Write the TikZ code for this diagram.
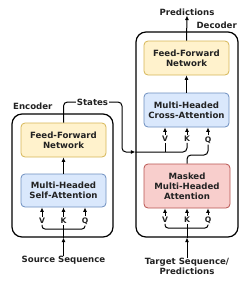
\documentclass[tikz,border=0pt]{standalone}
\usepackage{fontspec}
\setmainfont{DejaVu Sans}
\usetikzlibrary{arrows.meta}
\definecolor{ffnf}{HTML}{FFF2CC}
\definecolor{ffnb}{HTML}{D6B656}
\definecolor{attf}{HTML}{DAE8FC}
\definecolor{attb}{HTML}{6C8EBF}
\definecolor{mskf}{HTML}{F8CECC}
\definecolor{mskb}{HTML}{B85450}
\definecolor{txt}{HTML}{222222}
\begin{document}
\begin{tikzpicture}[x=1pt,y=-1pt,
  font=\bfseries\fontsize{8.6}{10}\selectfont, text=txt,
  outer/.style={draw, line width=1.2pt, rounded corners=10pt, inner sep=0pt},
  blk/.style={rounded corners=4pt, line width=0.8pt, align=center, inner sep=0pt},
  ffn/.style={blk, draw=ffnb, fill=ffnf},
  att/.style={blk, draw=attb, fill=attf},
  msk/.style={blk, draw=mskb, fill=mskf},
  lbl/.style={inner sep=1pt, font=\bfseries\fontsize{7.6}{8}\selectfont},
  arr/.style={-{Latex[length=4.5pt,width=4pt]}, line width=1pt},
  ln/.style={line width=1pt}]
\useasboundingbox (0,0) rectangle (250,282);

% outer boxes
\node[outer, minimum width=101pt, minimum height=123pt] (enc) at (62.5,175.5) {};
\node[outer, minimum width=102pt, minimum height=205pt] (dec) at (187,134.5) {};
\node[anchor=west, inner sep=0pt] (enclbl) at (13,106) {Encoder};
\node[anchor=east, inner sep=0pt] (declbl) at (237,25) {Decoder};

% encoder blocks
\node[ffn, minimum width=85pt, minimum height=34pt] (effn) at (63.5,140) {Feed-Forward\\Network};
\node[att, minimum width=85pt, minimum height=33pt] (esa) at (63.5,190.5) {Multi-Headed\\Self-Attention};
\draw[arr] (esa.north) -- (effn.south);

% encoder inputs
\node[lbl] (ev) at (42,221) {V};
\node[lbl] (ek) at (63.5,221) {K};
\node[lbl] (eq) at (85,221) {Q};
\foreach \n in {ev,ek,eq} \draw[arr] (\n.north) -- (\n.north |- esa.south);
\draw[ln, rounded corners=3pt] (ev.south) -- (ev.south |- 0,229) -- (eq.south |- 0,229) -- (eq.south);
\node[inner sep=0pt] (src) at (63.5,260) {Source Sequence};
\draw[arr] (src.north) -- (ek |- enc.south);
\draw[ln] (ek |- enc.south) -- (ek.south);

% decoder blocks
\node[ffn, minimum width=85pt, minimum height=34pt] (dffn) at (186.5,58) {Feed-Forward\\Network};
\node[att, minimum width=85pt, minimum height=34pt] (dca) at (186.5,110) {Multi-Headed\\Cross-Attention};
\node[msk, minimum width=86pt, minimum height=44pt] (dma) at (187,186) {Masked\\Multi-Headed\\Attention};
\draw[arr] (dca.north) -- (dffn.south);
\node[inner sep=0pt] (pred) at (187,12) {Predictions};
\draw[arr] (dffn.north) -- (pred.south);

% cross-attention inputs
\node[lbl] (cv) at (165,139) {V};
\node[lbl] (ck) at (187,139) {K};
\node[lbl] (cq) at (208,140) {Q};
\foreach \n in {cv,ck,cq} \draw[arr] (\n.north) -- (\n.north |- dca.south);
\draw[ln, rounded corners=4pt] (dma.north) -- (dma.north |- 0,155) -- (cq.south |- 0,155) -- (cq.south);

% states
\coordinate (sin) at (dec.west |- 0,152);
\draw[arr, rounded corners=4pt] (effn.north) -- (effn.north |- 0,102) -- (122,102) -- (122,152) -- (sin);
\draw[ln, rounded corners=4pt] (sin) -- (ck.south |- 0,152) -- (ck.south);
\draw[ln] (cv.south) -- (cv.south |- 0,152);
\node[lbl, fill=white, font=\bfseries\fontsize{8.6}{10}\selectfont] (states) at (92.5,102) {States};

% masked inputs
\node[lbl] (mv) at (165,220) {V};
\node[lbl] (mk) at (187,220) {K};
\node[lbl] (mq) at (208,220) {Q};
\foreach \n in {mv,mk,mq} \draw[arr] (\n.north) -- (\n.north |- dma.south);
\draw[ln, rounded corners=3pt] (mv.south) -- (mv.south |- 0,228) -- (mq.south |- 0,228) -- (mq.south);
\node[inner sep=0pt, align=center] (tgt) at (187,266.5) {Target Sequence/\\Predictions};
\draw[arr] (tgt.north) -- (mk |- dec.south);
\draw[ln] (mk |- dec.south) -- (mk.south);
\end{tikzpicture}
\end{document}
